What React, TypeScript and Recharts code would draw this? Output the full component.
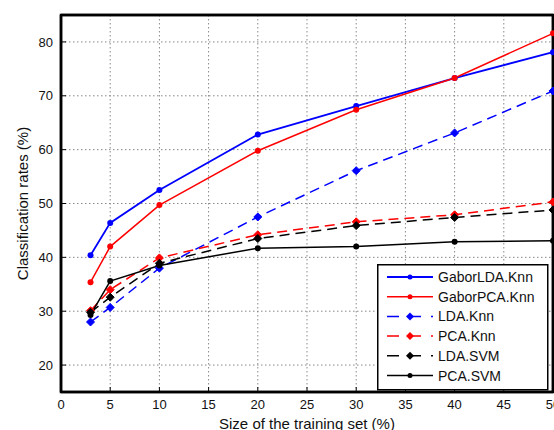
import React from 'react';
import { LineChart, Line, XAxis, YAxis, CartesianGrid, Legend, Label, ReferenceArea } from 'recharts';

const sizes = [3, 5, 10, 20, 30, 40, 50];
const gaborLdaKnn = [40.4, 46.4, 52.5, 62.8, 68.1, 73.3, 78.1];
const gaborPcaKnn = [35.4, 42.0, 49.7, 59.8, 67.4, 73.3, 81.6];
const ldaKnn = [28.0, 30.7, 38.0, 47.5, 56.1, 63.1, 70.9];
const pcaKnn = [30.1, 34.0, 39.9, 44.2, 46.6, 47.9, 50.3];
const ldaSvm = [29.8, 32.6, 38.9, 43.5, 45.9, 47.4, 48.8];
const pcaSvm = [29.3, 35.6, 38.5, 41.7, 42.0, 42.9, 43.1];

const xTicks = [0, 5, 10, 15, 20, 25, 30, 35, 40, 45, 50];
const yTicks = [20, 30, 40, 50, 60, 70, 80];

const series = [
  { key: 'gaborLdaKnn', name: 'GaborLDA.Knn', values: gaborLdaKnn, color: '#0000ff', dashed: false },
  { key: 'gaborPcaKnn', name: 'GaborPCA.Knn', values: gaborPcaKnn, color: '#ff0000', dashed: false },
  { key: 'ldaKnn', name: 'LDA.Knn', values: ldaKnn, color: '#0000ff', dashed: true },
  { key: 'pcaKnn', name: 'PCA.Knn', values: pcaKnn, color: '#ff0000', dashed: true },
  { key: 'ldaSvm', name: 'LDA.SVM', values: ldaSvm, color: '#000000', dashed: true },
  { key: 'pcaSvm', name: 'PCA.SVM', values: pcaSvm, color: '#000000', dashed: false },
];

const data = sizes.map((x, i) => {
  const row: Record<string, number> = { x };
  series.forEach((s) => {
    row[s.key] = s.values[i];
  });
  return row;
});

const FONT = '"Liberation Sans", Arial, Helvetica, sans-serif';
const DASH = '10 6';

const diamondDot = (color: string, s: number) => (props: any) => {
  const { cx, cy, index } = props;
  if (cx == null || cy == null) return <g key={index} />;
  return (
    <path
      key={index}
      d={`M${cx},${cy - s}L${cx + s},${cy}L${cx},${cy + s}L${cx - s},${cy}Z`}
      fill={color}
      stroke={color}
    />
  );
};

function LegendBox() {
  const rowH = 19.7;
  return (
    <svg width={172} height={127} style={{ display: 'block' }}>
      <rect x={0.75} y={0.75} width={170} height={125} fill="#fff" stroke="#000" strokeWidth={1.5} />
      {series.map((s, i) => {
        const y = 13 + i * rowH;
        const mx = 33;
        return (
          <g key={s.key}>
            <line
              x1={10}
              x2={56}
              y1={y}
              y2={y}
              stroke={s.color}
              strokeWidth={s.key === 'gaborLdaKnn' ? 2 : 1.5}
              strokeDasharray={s.dashed ? '12 10' : undefined}
            />
            {s.dashed ? (
              <path d={`M${mx},${y - 4}L${mx + 4},${y}L${mx},${y + 4}L${mx - 4},${y}Z`} fill={s.color} />
            ) : (
              <circle cx={mx} cy={y} r={2.5} fill={s.color} />
            )}
            <text x={61} y={y + 5} fontSize={14} fontFamily={FONT} fill="#111">
              {s.name}
            </text>
          </g>
        );
      })}
    </svg>
  );
}

export default function App() {
  return (
    <div style={{ position: 'fixed', left: 0, top: 0, width: 554, height: 430, overflow: 'hidden', background: '#fff' }}>
      <LineChart width={580} height={430} data={data} margin={{ top: 15, right: 27, bottom: 0, left: 0 }}>
        <CartesianGrid stroke="#888" strokeWidth={1} strokeDasharray="1.5 2.5" />
        <XAxis
          dataKey="x"
          type="number"
          domain={[0, 50]}
          ticks={xTicks}
          interval={0}
          height={38}
          axisLine={{ stroke: '#000', strokeWidth: 2.5 }}
          tickLine={{ stroke: '#000' }}
          tickSize={-5}
          tickMargin={13}
          tick={{ fill: '#111', fontSize: 13, fontFamily: FONT }}
        >
          <Label
            value="Size of the training set (%)"
            position="insideBottom"
            offset={1}
            style={{ fontSize: 15, fontFamily: FONT, fill: '#111' }}
          />
        </XAxis>
        <XAxis
          xAxisId="top"
          orientation="top"
          mirror
          dataKey="x"
          type="number"
          domain={[0, 50]}
          ticks={xTicks}
          interval={0}
          axisLine={{ stroke: '#000', strokeWidth: 2.5 }}
          tickLine={{ stroke: '#000' }}
          tickSize={5}
          tick={false}
        />
        <YAxis
          type="number"
          domain={[15, 85]}
          ticks={yTicks}
          interval={0}
          width={61}
          axisLine={{ stroke: '#000', strokeWidth: 2.5 }}
          tickLine={{ stroke: '#000' }}
          tickSize={-5}
          tickMargin={13}
          tick={{ fill: '#111', fontSize: 13, fontFamily: FONT }}
        >
          <Label
            content={(props: any) => {
              const vb = props.viewBox || { x: 0, y: 15, width: 61, height: 377 };
              const cx = vb.x + 28;
              const cy = vb.y + vb.height / 2;
              return (
                <text
                  x={cx}
                  y={cy}
                  transform={`rotate(-90 ${cx} ${cy})`}
                  textAnchor="middle"
                  fontSize={15}
                  fontFamily={FONT}
                  fill="#111"
                >
                  Classification rates (%)
                </text>
              );
            }}
          />
        </YAxis>
        <YAxis
          yAxisId="right"
          orientation="right"
          mirror
          type="number"
          domain={[15, 85]}
          ticks={yTicks}
          interval={0}
          axisLine={{ stroke: '#000', strokeWidth: 2.5 }}
          tickLine={{ stroke: '#000' }}
          tickSize={5}
          tick={false}
        />
        <ReferenceArea
          x1={0}
          x2={50}
          y1={15}
          y2={85}
          fill="none"
          fillOpacity={0}
          stroke="#000"
          strokeWidth={2.5}
          ifOverflow="visible"
        />
        {/* hidden series so the top and right frame axes are drawn with their inward ticks */}
        <Line
          xAxisId="top"
          yAxisId="right"
          dataKey="pcaSvm"
          stroke="none"
          dot={false}
          activeDot={false}
          legendType="none"
          isAnimationActive={false}
        />
        {series.map((s) => (
          <Line
            key={s.key}
            type="linear"
            dataKey={s.key}
            name={s.name}
            stroke={s.color}
            strokeWidth={s.key === 'gaborLdaKnn' ? 1.8 : 1.5}
            strokeDasharray={s.dashed ? DASH : undefined}
            dot={s.dashed ? diamondDot(s.color, 4) : { r: 3, fill: s.color, stroke: s.color, strokeWidth: 0 }}
            activeDot={false}
            isAnimationActive={false}
          />
        ))}
        <Legend
          layout="horizontal"
          verticalAlign="middle"
          align="center"
          content={() => <LegendBox />}
          wrapperStyle={{ position: 'absolute', left: 377, top: 264, width: 172, height: 127 }}
        />
      </LineChart>
    </div>
  );
}
